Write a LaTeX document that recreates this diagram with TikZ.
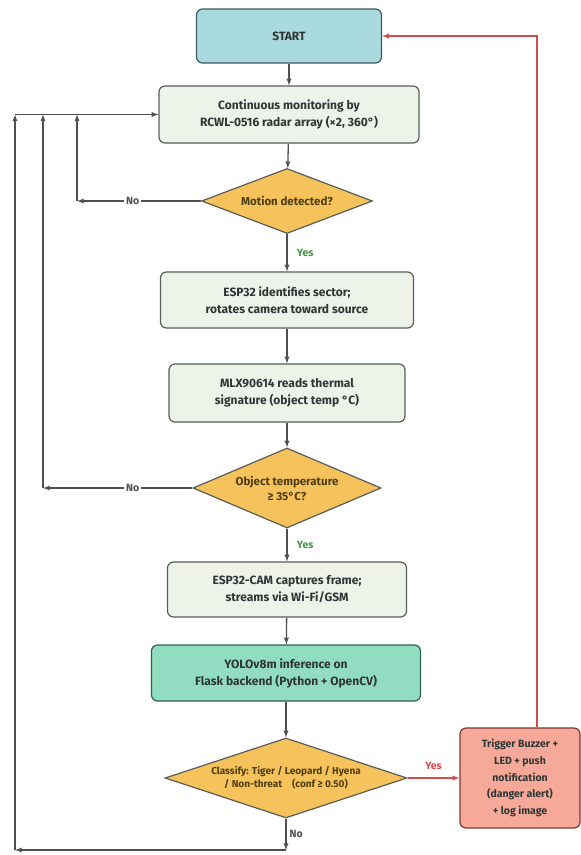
\documentclass[tikz,border=0pt]{standalone}
\usepackage{fontspec}
\setmainfont{Fira Sans}
\usepackage{xcolor}
\usepackage{tikz}
\usetikzlibrary{shapes.geometric}

\definecolor{startfill}{HTML}{A9DADD}
\definecolor{startline}{HTML}{3E5A5E}
\definecolor{procfill}{HTML}{EEF3EA}
\definecolor{boxline}{HTML}{585D58}
\definecolor{boxtext}{HTML}{2E3636}
\definecolor{diafill}{HTML}{F6C25C}
\definecolor{diatxt}{HTML}{4E3E12}
\definecolor{yolofill}{HTML}{92DCC2}
\definecolor{yololine}{HTML}{2E5F4F}
\definecolor{alertfill}{HTML}{F6A998}
\definecolor{alertline}{HTML}{7A3A30}
\definecolor{lncol}{HTML}{505050}
\definecolor{redcol}{HTML}{D94A4A}
\definecolor{yescol}{HTML}{3A9A3A}

\begin{document}
\begin{tikzpicture}[x=1pt,y=-1pt,
    box/.style={draw=boxline, line width=1.2pt, rounded corners=6pt, fill=procfill, align=center, text=boxtext, font=\fontsize{12}{17}\selectfont\bfseries, inner sep=0pt},
    dia/.style={diamond, draw=boxline, line width=1.2pt, fill=diafill, inner sep=0pt},
    diatext/.style={align=center, text=diatxt, font=\fontsize{11.5}{15}\selectfont\bfseries},
    ln/.style={-latex, draw=lncol, line width=1.3pt},
    redln/.style={-latex, draw=redcol, line width=1.3pt},
    no/.style={font=\fontsize{10.5}{12}\selectfont\bfseries, text=lncol, fill=white, inner sep=2pt},
    yes/.style={font=\fontsize{10.5}{12}\selectfont\bfseries, text=yescol}]

            \useasboundingbox (0,0) rectangle (581,855);

            \node [box, fill=startfill, draw=startline, minimum width=185pt, minimum height=54pt] (S) at (289,36) {START};
            \node [box, minimum width=260pt, minimum height=57pt] (M) at (289,114.5) {Continuous monitoring by\\RCWL-0516 radar array (×2, 360°)};
            \node [dia, minimum width=171pt, minimum height=65pt, label={[diatext]center:Motion detected?}] (D1) at (287,201) {};
            \node [box, minimum width=253pt, minimum height=56pt] (E) at (287,300) {ESP32 identifies sector;\\rotates camera toward source};
            \node [box, minimum width=236pt, minimum height=58pt] (T) at (287,393) {MLX90614 reads thermal\\signature (object temp °C)};
            \node [dia, minimum width=188pt, minimum height=80pt, label={[diatext]center:{Object temperature\\≥ 35°C?}}] (D2) at (287,488) {};
            \node [box, minimum width=239pt, minimum height=55pt] (C) at (287,589.5) {ESP32-CAM captures frame;\\streams via Wi-Fi/GSM};
            \node [box, fill=yolofill, draw=yololine, minimum width=269pt, minimum height=56pt] (Y) at (286,673) {YOLOv8m inference on\\Flask backend (Python + OpenCV)};
            \node [dia, minimum width=242pt, minimum height=80pt, label={[diatext, font=\fontsize{10}{13}\selectfont\bfseries]center:{Classify: Tiger / Leopard / Hyena\\/ Non-threat\quad(conf ≥ 0.50)}}] (D3) at (286,778) {};
            \node [box, fill=alertfill, draw=alertline, minimum width=120pt, minimum height=100pt, font=\fontsize{10.5}{16.7}\selectfont\bfseries] (R) at (520,778) {Trigger Buzzer +\\LED + push\\notification\\(danger alert)\\+ log image};

            \coordinate (m1) at (77,114.5);
            \coordinate (m2) at (43,114.5);
            \coordinate (m3) at (15,114.5);
            \coordinate (b1) at (286,850);
            \coordinate (b2) at (15,850);
            \coordinate (r1) at (537,40);

            \draw[ln] (S) -- (M);
            \draw[ln] (M) -- (D1);
            \draw[ln] (D1) -- node[yes, right=6pt] {Yes} (E);
            \draw[ln] (E) -- (T);
            \draw[ln] (T) -- (D2);
            \draw[ln] (D2) -- node[yes, right=6pt] {Yes} (C);
            \draw[ln] (C) -- (Y);
            \draw[ln] (Y) -- (D3);

            \draw[ln] (D1.west) -- node[no, pos=0.55] {No} (D1.west -| m1);
            \draw[ln] (D1.west -| m1) -- (m1);
            \draw[ln] (D2.west) -- node[no, pos=0.4] {No} (D2.west -| m2);
            \draw[ln] (D2.west -| m2) -- (m2);
            \draw[ln] (D3.south) -- node[no, right=1pt, fill=none] {No} (b1);
            \draw[ln] (b1) -- (b2);
            \draw[ln] (b2) -- (m3);
            \draw[ln] (m3) -- (M.west);

            \draw[redln] (D3.east) -- node[yes, text=redcol, above=4pt] {Yes} (R.west);
            \draw[redln] (R.north -| r1) |- (S.east);

        \end{tikzpicture}
\end{document}
